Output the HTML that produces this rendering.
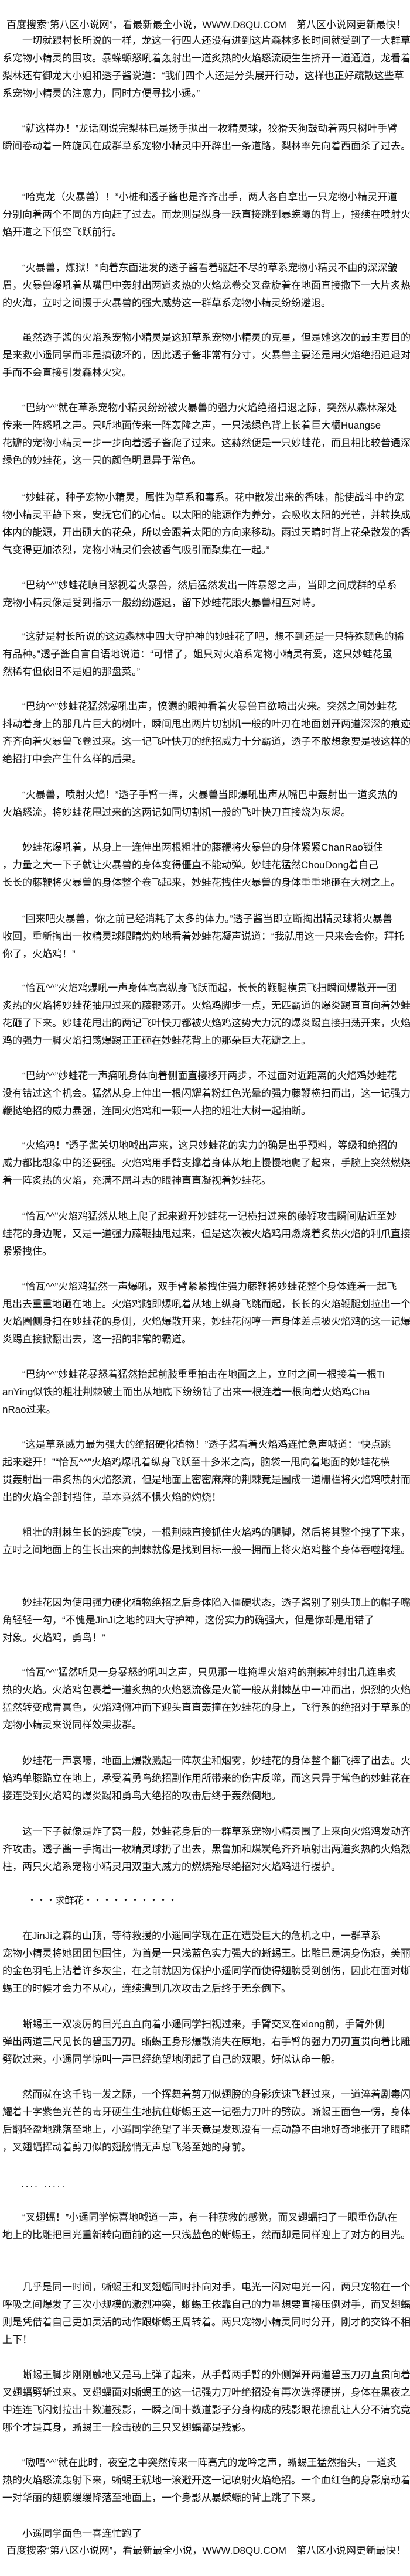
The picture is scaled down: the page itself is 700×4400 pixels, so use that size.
<!DOCTYPE html>
<html lang="zh-CN">
<head>
<meta charset="utf-8">
<style>
html,body{margin:0;padding:0;background:#fff;}
body{width:700px;height:4400px;position:relative;overflow:hidden;
font-family:"Liberation Sans","Noto Sans CJK SC",sans-serif;font-size:17px;color:#111;}
.p{position:absolute;left:4px;width:700px;line-height:30px;white-space:nowrap;text-indent:34px;}
.h{position:absolute;left:11px;line-height:30px;white-space:nowrap;}
</style>
</head>
<body>
<div class="h" style="top:28px">百度搜索“第八区小说网”，看最新最全小说，WWW.D8QU.COM　第八区小说网更新最快！</div>

<div class="p" style="top:55px">一切就跟村长所说的一样，龙这一行四人还没有进到这片森林多长时间就受到了一大群草<br>系宠物小精灵的围攻。暴蝾螈怒吼着轰射出一道炙热的火焰怒流硬生生挤开一道通道，龙看着<br>梨林还有御龙大小姐和透子酱说道：“我们四个人还是分头展开行动，这样也正好疏散这些草<br>系宠物小精灵的注意力，同时方便寻找小遥。”</div>

<div class="p" style="top:205px">“就这样办！”龙话刚说完梨林已是扬手抛出一枚精灵球，狡猾天狗鼓动着两只树叶手臂<br>瞬间卷动着一阵旋风在成群草系宠物小精灵中开辟出一条道路，梨林率先向着西面杀了过去。</div>

<div class="p" style="top:322px">“哈克龙（火暴兽）！”小桩和透子酱也是齐齐出手，两人各自拿出一只宠物小精灵开道<br>分别向着两个不同的方向赶了过去。而龙则是纵身一跃直接跳到暴蝾螈的背上，接续在喷射火<br>焰开道之下低空飞跃前行。</div>

<div class="p" style="top:443px">“火暴兽，炼狱！”向着东面进发的透子酱看着驱赶不尽的草系宠物小精灵不由的深深皱<br>眉，火暴兽爆吼着从嘴巴中轰射出两道炙热的火焰龙卷交叉盘旋着在地面直接撒下一大片炙热<br>的火海，立时之间摄于火暴兽的强大威势这一群草系宠物小精灵纷纷避退。</div>

<div class="p" style="top:562px">虽然透子酱的火焰系宠物小精灵是这班草系宠物小精灵的克星，但是她这次的最主要目的<br>是来救小遥同学而非是搞破坏的，因此透子酱非常有分寸，火暴兽主要还是用火焰绝招迫退对<br>手而不会直接引发森林火灾。</div>

<div class="p" style="top:682px">“巴纳^^”就在草系宠物小精灵纷纷被火暴兽的强力火焰绝招扫退之际，突然从森林深处<br>传来一阵怒吼之声。只听地面传来一阵轰隆之声，一只浅绿色背上长着巨大橘Huangse<br>花瓣的宠物小精灵一步一步向着透子酱爬了过来。这赫然便是一只妙蛙花，而且相比较普通深<br>绿色的妙蛙花，这一只的颜色明显异于常色。</div>

<div class="p" style="top:835px">“妙蛙花，种子宠物小精灵，属性为草系和毒系。花中散发出来的香味，能使战斗中的宠<br>物小精灵平静下来，安抚它们的心情。以太阳的能源作为养分，会吸收太阳的光芒，并转换成<br>体内的能源，开出硕大的花朵，所以会跟着太阳的方向来移动。雨过天晴时背上花朵散发的香<br>气变得更加浓烈，宠物小精灵们会被香气吸引而聚集在一起。”</div>

<div class="p" style="top:985px">“巴纳^^”妙蛙花瞋目怒视着火暴兽，然后猛然发出一阵暴怒之声，当即之间成群的草系<br>宠物小精灵像是受到指示一般纷纷避退，留下妙蛙花跟火暴兽相互对峙。</div>

<div class="p" style="top:1073px">“这就是村长所说的这边森林中四大守护神的妙蛙花了吧，想不到还是一只特殊颜色的稀<br>有品种。”透子酱自言自语地说道：“可惜了，姐只对火焰系宠物小精灵有爱，这只妙蛙花虽<br>然稀有但依旧不是姐的那盘菜。”</div>

<div class="p" style="top:1192px">“巴纳^^”妙蛙花猛然爆吼出声，愤懑的眼神看着火暴兽直欲喷出火来。突然之间妙蛙花<br>抖动着身上的那几片巨大的树叶，瞬间甩出两片切割机一般的叶刃在地面划开两道深深的痕迹<br>齐齐向着火暴兽飞卷过来。这一记飞叶快刀的绝招威力十分霸道，透子不敢想象要是被这样的<br>绝招打中会产生什么样的后果。</div>

<div class="p" style="top:1343px">“火暴兽，喷射火焰！”透子手臂一挥，火暴兽当即爆吼出声从嘴巴中轰射出一道炙热的<br>火焰怒流，将妙蛙花甩过来的这两记如同切割机一般的飞叶快刀直接烧为灰烬。</div>

<div class="p" style="top:1433px">妙蛙花爆吼着，从身上一连伸出两根粗壮的藤鞭将火暴兽的身体紧紧ChanRao锁住<br>，力量之大一下子就让火暴兽的身体变得僵直不能动弹。妙蛙花猛然ChouDong着自己<br>长长的藤鞭将火暴兽的身体整个卷飞起来，妙蛙花拽住火暴兽的身体重重地砸在大树之上。</div>

<div class="p" style="top:1555px">“回来吧火暴兽，你之前已经消耗了太多的体力。”透子酱当即立断掏出精灵球将火暴兽<br>收回，重新掏出一枚精灵球眼睛灼灼地看着妙蛙花凝声说道：“我就用这一只来会会你，拜托<br>你了，火焰鸡！”</div>

<div class="p" style="top:1673px">“恰瓦^^”火焰鸡爆吼一声身体高高纵身飞跃而起，长长的鞭腿横贯飞扫瞬间爆散开一团<br>炙热的火焰将妙蛙花抽甩过来的藤鞭荡开。火焰鸡脚步一点，无匹霸道的爆炎踢直直向着妙蛙<br>花砸了下来。妙蛙花甩出的两记飞叶快刀都被火焰鸡这势大力沉的爆炎踢直接扫荡开来，火焰<br>鸡的强力一脚火焰扫荡爆踢正正砸在妙蛙花背上的那朵巨大花瓣之上。</div>

<div class="p" style="top:1823px">“巴纳^^”妙蛙花一声痛吼身体向着侧面直接移开两步，不过面对近距离的火焰鸡妙蛙花<br>没有错过这个机会。猛然从身上伸出一根闪耀着粉红色光晕的强力藤鞭横扫而出，这一记强力<br>鞭挞绝招的威力暴强，连同火焰鸡和一颗一人抱的粗壮大树一起抽断。</div>

<div class="p" style="top:1942px">“火焰鸡！”透子酱关切地喊出声来，这只妙蛙花的实力的确是出乎预料，等级和绝招的<br>威力都比想象中的还要强。火焰鸡用手臂支撑着身体从地上慢慢地爬了起来，手腕上突然燃烧<br>着一阵炙热的火焰，充满不屈斗志的眼神直直凝视着妙蛙花。</div>

<div class="p" style="top:2063px">“恰瓦^^”火焰鸡猛然从地上爬了起来避开妙蛙花一记横扫过来的藤鞭攻击瞬间贴近至妙<br>蛙花的身边呢，又是一道强力藤鞭抽甩过来，但是这次被火焰鸡用燃烧着炙热火焰的利爪直接<br>紧紧拽住。</div>

<div class="p" style="top:2183px">“恰瓦^^”火焰鸡猛然一声爆吼，双手臂紧紧拽住强力藤鞭将妙蛙花整个身体连着一起飞<br>甩出去重重地砸在地上。火焰鸡随即爆吼着从地上纵身飞跳而起，长长的火焰鞭腿划拉出一个<br>火焰圈侧身扫在妙蛙花的身侧，火焰爆散开来，妙蛙花闷哼一声身体差点被火焰鸡的这一记爆<br>炎踢直接掀翻出去，这一招的非常的霸道。</div>

<div class="p" style="top:2333px">“巴纳^^”妙蛙花暴怒着猛然抬起前肢重重拍击在地面之上，立时之间一根接着一根Ti<br>anYing似铁的粗壮荆棘破土而出从地底下纷纷钻了出来一根连着一根向着火焰鸡Cha<br>nRao过来。</div>

<div class="p" style="top:2453px">“这是草系威力最为强大的绝招硬化植物！”透子酱看着火焰鸡连忙急声喊道：“快点跳<br>起来避开！”“恰瓦^^”火焰鸡爆吼着纵身飞跃至十多米之高，脑袋一甩向着地面的妙蛙花横<br>贯轰射出一串炙热的火焰怒流，但是地面上密密麻麻的荆棘竟是围成一道栅栏将火焰鸡喷射而<br>出的火焰全部封挡住，草本竟然不惧火焰的灼烧！</div>

<div class="p" style="top:2603px">粗壮的荆棘生长的速度飞快，一根荆棘直接抓住火焰鸡的腿脚，然后将其整个拽了下来，<br>立时之间地面上的生长出来的荆棘就像是找到目标一般一拥而上将火焰鸡整个身体吞噬掩埋。</div>

<div class="p" style="top:2723px">妙蛙花因为使用强力硬化植物绝招之后身体陷入僵硬状态，透子酱别了别头顶上的帽子嘴<br>角轻轻一勾，“不愧是JinJi之地的四大守护神，这份实力的确强大，但是你却是用错了<br>对象。火焰鸡，勇鸟！”</div>

<div class="p" style="top:2842px">“恰瓦^^”猛然听见一身暴怒的吼叫之声，只见那一堆掩埋火焰鸡的荆棘冲射出几连串炙<br>热的火焰。火焰鸡包裹着一道炙热的火焰怒流像是火箭一般从荆棘丛中一冲而出，炽烈的火焰<br>猛然转变成青冥色，火焰鸡俯冲而下迎头直直轰撞在妙蛙花的身上，飞行系的绝招对于草系的<br>宠物小精灵来说同样效果拔群。</div>

<div class="p" style="top:2993px">妙蛙花一声哀嚎，地面上爆散溅起一阵灰尘和烟雾，妙蛙花的身体整个翻飞摔了出去。火<br>焰鸡单膝跪立在地上，承受着勇鸟绝招副作用所带来的伤害反噬，而这只异于常色的妙蛙花在<br>接连受到火焰鸡的爆炎踢和勇鸟大绝招的攻击后终于轰然倒地。</div>

<div class="p" style="top:3114px">这一下子就像是炸了窝一般，妙蛙花身后的一群草系宠物小精灵围了上来向火焰鸡发动齐<br>齐攻击。透子酱一手掏出一枚精灵球扔了出去，黑鲁加和煤炭龟齐齐喷射出两道炙热的火焰烈<br>柱，两只火焰系宠物小精灵用双重大威力的燃烧殆尽绝招对火焰鸡进行援护。</div>

<div class="h" style="top:3232px;left:46px;letter-spacing:-1px">・・・求鲜花・・・・・・・・・・</div>

<div class="p" style="top:3292px">在JinJi之森的山顶，等待救援的小遥同学现在正在遭受巨大的危机之中，一群草系<br>宠物小精灵将她团团包围住，为首是一只浅蓝色实力强大的蜥蜴王。比雕已是满身伤痕，美丽<br>的金色羽毛上沾着许多灰尘，在之前就因为保护小遥同学而使得翅膀受到创伤，因此在面对蜥<br>蜴王的时候才会力不从心，连续遭到几次攻击之后终于无奈倒下。</div>

<div class="p" style="top:3443px">蜥蜴王一双凌厉的目光直直向着小遥同学扫视过来，手臂交叉在xiong前，手臂外侧<br>弹出两道三尺见长的碧玉刀刃。蜥蜴王身形爆散消失在原地，右手臂的强力刀刃直贯向着比雕<br>劈砍过来，小遥同学惊叫一声已经绝望地闭起了自己的双眼，好似认命一般。</div>

<div class="p" style="top:3563px">然而就在这千钧一发之际，一个挥舞着剪刀似翅膀的身影疾速飞赶过来，一道淬着剧毒闪<br>耀着十字紫色光芒的毒牙硬生生地抗住蜥蜴王这一记强力刀叶的劈砍。蜥蜴王面色一愣，身体<br>后翻轻盈地跳落至地上，小遥同学绝望了半天竟是发现没有一点动静不由地好奇地张开了眼睛<br>，叉翅蝠挥动着剪刀似的翅膀悄无声息飞落至她的身前。</div>

<div class="h" style="top:3715px;left:36px;letter-spacing:3px">.... .....</div>

<div class="p" style="top:3773px">“叉翅蝠！”小遥同学惊喜地喊道一声，有一种获救的感觉，而叉翅蝠扫了一眼重伤趴在<br>地上的比雕把目光重新转向面前的这一只浅蓝色的蜥蜴王，然而却是同样迎上了对方的目光。</div>

<div class="p" style="top:3892px">几乎是同一时间，蜥蜴王和叉翅蝠同时扑向对手，电光一闪对电光一闪，两只宠物在一个<br>呼吸之间爆发了三次小规模的激烈冲突，蜥蜴王依靠自己的力量想要直接压倒对手，而叉翅蝠<br>则是凭借着自己更加灵活的动作跟蜥蜴王周转着。两只宠物小精灵同时分开，刚才的交锋不相<br>上下！</div>

<div class="p" style="top:4042px">蜥蜴王脚步刚刚触地又是马上弹了起来，从手臂两手臂的外侧弹开两道碧玉刀刃直贯向着<br>叉翅蝠劈斩过来。叉翅蝠面对蜥蜴王的这一记强力刀叶绝招没有再次选择硬拼，身体在黑夜之<br>中连连飞闪划拉出十数道残影，一瞬之间十数道影子分身构成的残影眼花撩乱让人分不清究竟<br>哪个才是真身，蜥蜴王一脸击破的三只叉翅蝠都是残影。</div>

<div class="p" style="top:4192px">“嗷唔^^”就在此时，夜空之中突然传来一阵高亢的龙吟之声，蜥蜴王猛然抬头，一道炙<br>热的火焰怒流轰射下来，蜥蜴王就地一滚避开这一记喷射火焰绝招。一个血红色的身影扇动着<br>一对华丽的翅膀缓缓降落至地面上，一个身影从暴蝾螈的背上跳了下来。</div>

<div class="p" style="top:4313px">小遥同学面色一喜连忙跑了</div>

<div class="h" style="top:4342px">百度搜索“第八区小说网”，看最新最全小说，WWW.D8QU.COM　第八区小说网更新最快！</div>
</body>
</html>
